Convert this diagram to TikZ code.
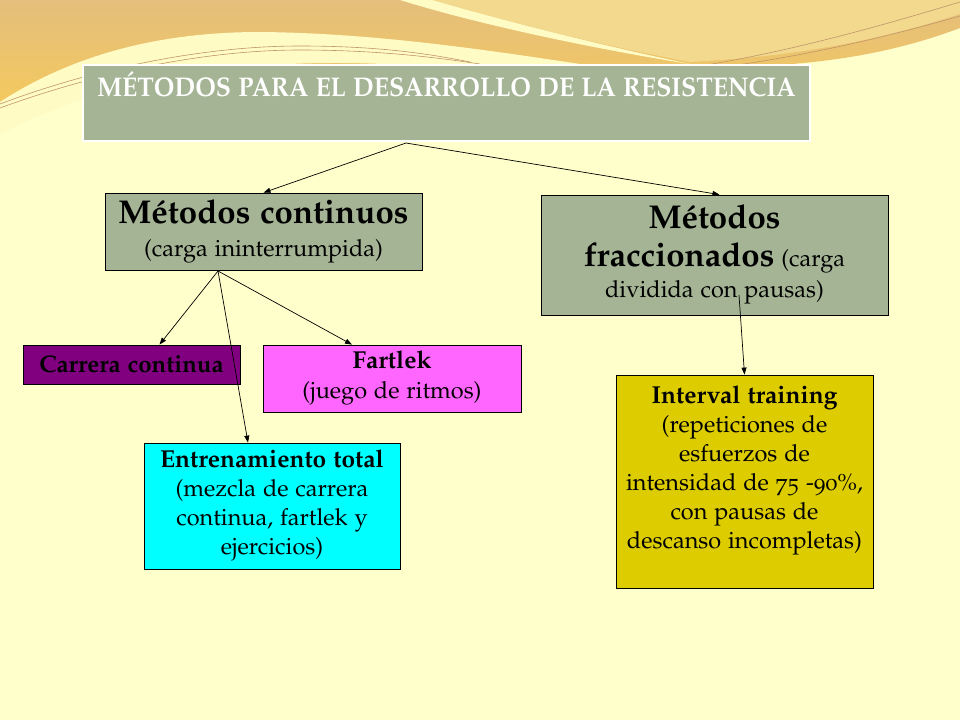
\documentclass[tikz,border=0pt]{standalone}
\usepackage[T1]{fontenc}
\usepackage[osf]{mathpazo}
\usetikzlibrary{arrows.meta,calc}

\definecolor{bgcream}{HTML}{FFFFCC}
\definecolor{palewave}{HTML}{FFFBC4}
\definecolor{sandtop}{HTML}{E4BE7C}
\definecolor{sandlow}{HTML}{F5CA5C}
\definecolor{sandlight}{HTML}{F2D98E}
\definecolor{thread}{HTML}{C0956A}
\definecolor{sage}{HTML}{A4B494}
\definecolor{plum}{HTML}{800080}
\definecolor{rosa}{HTML}{FF66FF}
\definecolor{celeste}{HTML}{00FFFF}
\definecolor{mostaza}{HTML}{DCCC00}

\newcommand{\bigfont}{\fontsize{33}{36}\selectfont\bfseries}
\newcommand{\midfont}{\fontsize{23.5}{29}\selectfont}
\newcommand{\midbold}{\fontsize{24.5}{29}\selectfont\bfseries}

\begin{document}
\begin{tikzpicture}[x=1pt,y=-1pt,
   every node/.style={draw,align=center,inner sep=2pt,line width=0.8pt,font=\midfont},
   sagebox/.style={fill=sage},
   link/.style={-{Triangle[length=7pt,width=5pt]},line width=0.7pt}]

\useasboundingbox (0,0) rectangle (960,720);
\fill[bgcream] (0,0) rectangle (960,720);

% top band
\shade[top color=sandtop,bottom color=sandlow]
   (0,0) -- (960,0) -- (960,28) .. controls (870,62) and (780,68) .. (690,67)
   -- (300,67) .. controls (150,67) and (60,85) .. (0,112) -- cycle;
\fill[sandlight] (430,0) -- (960,0) -- (960,14) .. controls (850,50) and (760,58) .. (690,62)
   .. controls (600,45) and (500,20) .. (430,0) -- cycle;
\fill[palewave] (400,0) .. controls (480,25) and (600,50) .. (690,64)
   .. controls (600,45) and (500,20) .. (432,0) -- cycle;
\fill[palewave] (0,102) .. controls (80,50) and (170,32) .. (260,32)
   .. controls (380,33) and (500,52) .. (600,67) -- (430,67)
   .. controls (250,52) and (100,80) .. (0,135) -- cycle;
\draw[thread,line width=0.6pt] (0,108) .. controls (90,75) and (200,50) .. (300,50)
   .. controls (380,50) and (440,58) .. (480,64);
\draw[thread,line width=0.6pt] (0,104) .. controls (90,70) and (200,46) .. (300,46)
   .. controls (380,46) and (430,54) .. (470,62);
\draw[thread,line width=0.6pt] (700,66) .. controls (800,50) and (900,20) .. (960,2);
\draw[thread,line width=0.6pt] (730,66) .. controls (830,52) and (910,30) .. (960,16);

% boxes
\node[fill=sage,draw=white,line width=1.5pt,minimum width=727pt,minimum height=76pt,
   label={[draw=none,anchor=north,yshift=-5pt,text=white,font=\fontsize{27}{30}\selectfont\bfseries]north:\scalebox{0.92}[1]{MÉTODOS PARA EL DESARROLLO DE LA RESISTENCIA}}]
   (title) at (446.5,103) {};

\node[sagebox,minimum width=317pt,minimum height=77pt] (continuos) at (263.5,231.5)
   {{\bigfont Métodos continuos}\\[4pt] (carga ininterrumpida)};
\node[sagebox,minimum width=347pt,minimum height=120pt] (fraccion) at (714.5,255)
   {{\bigfont Métodos}\\[9pt] {\bigfont fraccionados} (carga\\[2pt] dividida con pausas)};

\node[fill=plum,minimum width=217pt,minimum height=39pt] (carrera) at (131.5,364.5)
   {\fontsize{24}{29}\selectfont\bfseries Carrera continua};
\node[fill=rosa,minimum width=258pt,minimum height=67pt] (fartlek) at (392,378.5)
   {{\midbold Fartlek}\\[1pt] (juego de ritmos)};
\node[fill=celeste,minimum width=256pt,minimum height=126pt] (total) at (272,506)
   {{\midbold Entrenamiento total}\\ (mezcla de carrera\\ continua, fartlek y\\ ejercicios)};
\node[fill=mostaza,minimum width=257pt,minimum height=213pt] (interval) at (744.5,481.5)
   {{\midbold Interval training}\\ (repeticiones de\\ esfuerzos de\\
    intensidad de 75 -90\%,\\ con pausas de\\ descanso incompletas)\\ \mbox{}};

% connectors
\coordinate (tsplit) at (406,143);
\coordinate (csplit) at (218,271);
\coordinate (fsplit) at (739,295);
\draw[link] (tsplit) -- (continuos.north);
\draw[link] (tsplit) -- ($(fraccion.north)+(5,0)$);
\draw[link] (csplit) -- ($(carrera.north)+(28,0)$);
\draw[link] (csplit) -- ($(total.north)+(-24,0)$);
\draw[link] (csplit) -- ($(fartlek.north)+(-40,0)$);
\draw[link] (fsplit) -- (interval.north);

\end{tikzpicture}
\end{document}
